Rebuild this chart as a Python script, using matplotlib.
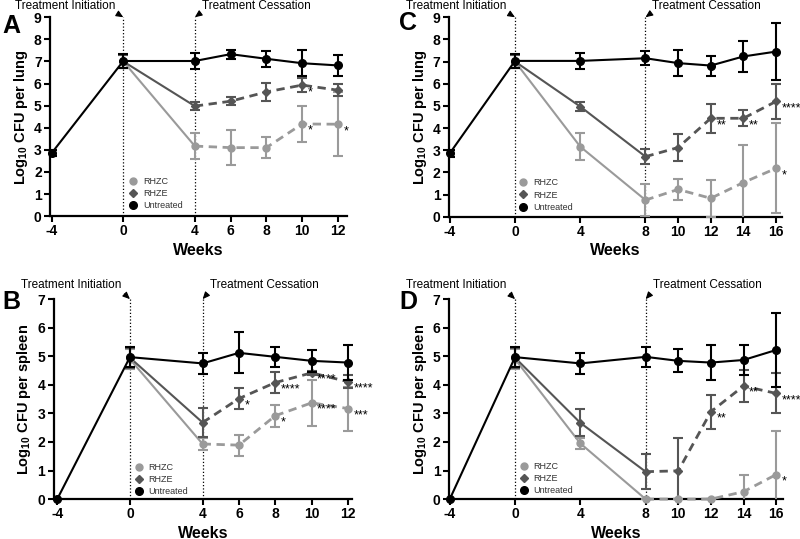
import matplotlib.pyplot as plt
from matplotlib.lines import Line2D

plt.rcParams['font.family'] = ['Liberation Sans', 'DejaVu Sans']
plt.rcParams['mathtext.fontset'] = 'custom'
plt.rcParams['mathtext.rm'] = 'Liberation Sans:bold'
plt.rcParams['mathtext.bf'] = 'Liberation Sans:bold'
plt.rcParams['mathtext.default'] = 'rm'
plt.rcParams['axes.unicode_minus'] = False

# weeks (untreated starts at -4, treated groups start at 0)
weeks_12 = [-4, 0, 4, 6, 8, 10, 12]
weeks_16 = [-4, 0, 4, 8, 10, 12, 14, 16]

# A: lung, 12 week study
a_untreated = [2.86, 7.02, 7.02, 7.33, 7.12, 6.92, 6.82]
a_untreated_sd = [0.15, 0.3, 0.35, 0.2, 0.35, 0.6, 0.47]
a_rhze = [7.0, 4.98, 5.2, 5.62, 5.93, 5.7]
a_rhze_sd = [0.3, 0.18, 0.17, 0.42, 0.3, 0.28]
a_rhze_sig = ['', '', '', '', '*', '']
a_rhzc = [7.0, 3.17, 3.1, 3.1, 4.17, 4.16]
a_rhzc_sd = [0.3, 0.58, 0.8, 0.47, 0.82, 1.45]
a_rhzc_sig = ['', '', '', '', '*', '*']

# B: spleen, 12 week study
b_untreated = [0.0, 4.97, 4.75, 5.12, 4.98, 4.84, 4.78]
b_untreated_sd = [0.0, 0.35, 0.37, 0.72, 0.34, 0.39, 0.6]
b_rhze = [4.95, 2.68, 3.52, 4.08, 4.42, 4.11]
b_rhze_sd = [0.35, 0.5, 0.38, 0.36, 0.08, 0.22]
b_rhze_sig = ['', '', '*', '****', '****', '****']
b_rhzc = [4.9, 1.93, 1.89, 2.92, 3.37, 3.17]
b_rhzc_sd = [0.35, 0.2, 0.37, 0.38, 0.8, 0.77]
b_rhzc_sig = ['', '', '', '*', '****', '***']

# C: lung, 16 week study
c_untreated = [2.86, 7.03, 7.03, 7.15, 6.93, 6.82, 7.23, 7.45]
c_untreated_sd = [0.15, 0.3, 0.36, 0.32, 0.6, 0.45, 0.68, 1.3]
c_rhze = [7.0, 4.97, 2.71, 3.12, 4.44, 4.44, 5.2]
c_rhze_sd = [0.3, 0.2, 0.35, 0.6, 0.65, 0.36, 0.81]
c_rhze_sig = ['', '', '', '', '**', '**', '****']
c_rhzc = [7.0, 3.16, 0.75, 1.23, 0.83, 1.54, 2.18]
c_rhzc_sd = [0.3, 0.6, 0.72, 0.46, 0.83, 1.7, 2.03]
c_rhzc_sig = ['', '', '', '', '', '', '*']

# D: spleen, 16 week study
d_untreated = [0.0, 4.97, 4.75, 4.98, 4.84, 4.78, 4.87, 5.22]
d_untreated_sd = [0.0, 0.35, 0.37, 0.35, 0.4, 0.6, 0.52, 1.3]
d_rhze = [4.95, 2.67, 0.96, 0.99, 3.06, 3.96, 3.7]
d_rhze_sd = [0.35, 0.47, 0.62, 1.16, 0.6, 0.55, 0.7]
d_rhze_sig = ['', '', '', '', '**', '**', '****']
d_rhzc = [4.9, 1.95, 0.0, 0.0, 0.0, 0.26, 0.86]
d_rhzc_sd = [0.35, 0.2, 0.0, 0.0, 0.0, 0.58, 1.53]
d_rhzc_sig = ['', '', '', '', '', '', '*']

col_untreated = '#000000'
col_rhze = '#555555'
col_rhzc = '#9a9a9a'


def draw_group(ax, wk, vals, sd, color, marker, ms, stop, z):
    ax.errorbar(wk, vals, yerr=sd, fmt='none', ecolor=color, elinewidth=1.5,
                capsize=3.5, capthick=1.5, zorder=z)
    solid = [i for i, w in enumerate(wk) if w <= stop]
    dashed = [i for i, w in enumerate(wk) if w >= stop]
    ax.plot([wk[i] for i in solid], [vals[i] for i in solid], '-', color=color,
            lw=1.5, zorder=z, clip_on=False)
    if len(dashed) > 1:
        ax.plot([wk[i] for i in dashed], [vals[i] for i in dashed], '--', color=color,
                lw=2, dashes=(3, 2), zorder=z, clip_on=False)
    ax.plot(wk, vals, ls='none', marker=marker, ms=ms, color=color, zorder=z + 0.5,
            clip_on=False)


def draw_stars(ax, wk, vals, sig):
    for w, v, s in zip(wk, vals, sig):
        if s:
            ax.annotate(s, xy=(w, v), xytext=(4, -5), textcoords='offset points',
                        ha='left', va='center', fontsize=9, color='k', zorder=6)


def draw_panel(ax, weeks, unt, unt_sd, rhze, rhze_sd, rhze_sig, rhzc, rhzc_sd, rhzc_sig,
               stop, ymax, xlim, ylabel, legend_pos, text_dy):
    tw = weeks[1:]
    draw_group(ax, tw, rhzc, rhzc_sd, col_rhzc, 'o', 5, stop, 3)
    draw_group(ax, tw, rhze, rhze_sd, col_rhze, 'D', 4, stop, 3.2)
    draw_group(ax, weeks, unt, unt_sd, col_untreated, 'o', 5.5, 99, 4)
    draw_stars(ax, tw, rhze, rhze_sig)
    draw_stars(ax, tw, rhzc, rhzc_sig)

    ax.axvline(0, ls=':', color='k', lw=0.9, zorder=1)
    ax.axvline(stop, ls=':', color='k', lw=0.9, zorder=1)

    ax.annotate('Treatment Initiation', xy=(0, ymax), xytext=(-6, text_dy),
                textcoords='offset points', ha='right', va='center', fontsize=8.5,
                annotation_clip=False,
                arrowprops=dict(arrowstyle='-|>,head_length=0.5,head_width=0.22',
                                color='k', lw=0.8, shrinkA=0, shrinkB=0, relpos=(1, 0)))
    ax.annotate('Treatment Cessation', xy=(stop, ymax), xytext=(5, text_dy),
                textcoords='offset points', ha='left', va='center', fontsize=8.5,
                annotation_clip=False,
                arrowprops=dict(arrowstyle='-|>,head_length=0.5,head_width=0.22',
                                color='k', lw=0.8, shrinkA=0, shrinkB=0, relpos=(0, 0)))

    ax.set_xlim(*xlim)
    ax.set_ylim(0, ymax)
    ax.set_xticks(weeks)
    ax.set_yticks(range(0, ymax + 1))
    ax.spines['top'].set_visible(False)
    ax.spines['right'].set_visible(False)
    ax.spines['left'].set_linewidth(1.6)
    ax.spines['bottom'].set_linewidth(1.6)
    ax.tick_params(direction='out', length=4, width=1.5, labelsize=10, pad=2)
    for lab in ax.get_xticklabels() + ax.get_yticklabels():
        lab.set_fontweight('bold')
    ax.set_xlabel('Weeks', fontsize=11.5, fontweight='bold', labelpad=3)
    ax.set_ylabel(ylabel, fontsize=10.5, fontweight='bold', labelpad=3)

    handles = [
        Line2D([], [], ls='none', marker='o', ms=5, color=col_rhzc),
        Line2D([], [], ls='none', marker='D', ms=4, color=col_rhze),
        Line2D([], [], ls='none', marker='o', ms=5.5, color=col_untreated),
    ]
    leg = ax.legend(handles, ['RHZC', 'RHZE', 'Untreated'], loc='lower left',
                    bbox_to_anchor=legend_pos, frameon=False, fontsize=6.5,
                    handlelength=1, handletextpad=0.6, labelspacing=0.35,
                    borderpad=0, borderaxespad=0)
    for t in leg.get_texts():
        t.set_color('#333333')


fig = plt.figure(figsize=(8, 5.39), dpi=100)
ax_a = fig.add_axes([0.0625, 0.599, 0.371, 0.369])
ax_c = fig.add_axes([0.561, 0.598, 0.4165, 0.370])
ax_b = fig.add_axes([0.067, 0.074, 0.373, 0.371])
ax_d = fig.add_axes([0.561, 0.074, 0.418, 0.371])

draw_panel(ax_a, weeks_12, a_untreated, a_untreated_sd, a_rhze, a_rhze_sd, a_rhze_sig,
           a_rhzc, a_rhzc_sd, a_rhzc_sig, 4, 9, (-4.1, 12.5),
           'Log$_{10}$ CFU per lung', (0.265, 0.03), 8)
draw_panel(ax_b, weeks_12, b_untreated, b_untreated_sd, b_rhze, b_rhze_sd, b_rhze_sig,
           b_rhzc, b_rhzc_sd, b_rhzc_sig, 4, 7, (-4.2, 12.22),
           'Log$_{10}$ CFU per spleen', (0.27, 0.015), 10)
draw_panel(ax_c, weeks_16, c_untreated, c_untreated_sd, c_rhze, c_rhze_sd, c_rhze_sig,
           c_rhzc, c_rhzc_sd, c_rhzc_sig, 8, 9, (-4.06, 16.37),
           'Log$_{10}$ CFU per lung', (0.21, 0.025), 8)
draw_panel(ax_d, weeks_16, d_untreated, d_untreated_sd, d_rhze, d_rhze_sd, d_rhze_sig,
           d_rhzc, d_rhzc_sd, d_rhzc_sig, 8, 7, (-4.06, 16.43),
           'Log$_{10}$ CFU per spleen', (0.21, 0.02), 10)

fig.text(0.003, 0.952, 'A', fontsize=18, fontweight='bold', ha='left', va='center')
fig.text(0.003, 0.44, 'B', fontsize=18, fontweight='bold', ha='left', va='center')
fig.text(0.499, 0.957, 'C', fontsize=18, fontweight='bold', ha='left', va='center')
fig.text(0.499, 0.44, 'D', fontsize=18, fontweight='bold', ha='left', va='center')

fig.savefig('out.png', dpi=100)
